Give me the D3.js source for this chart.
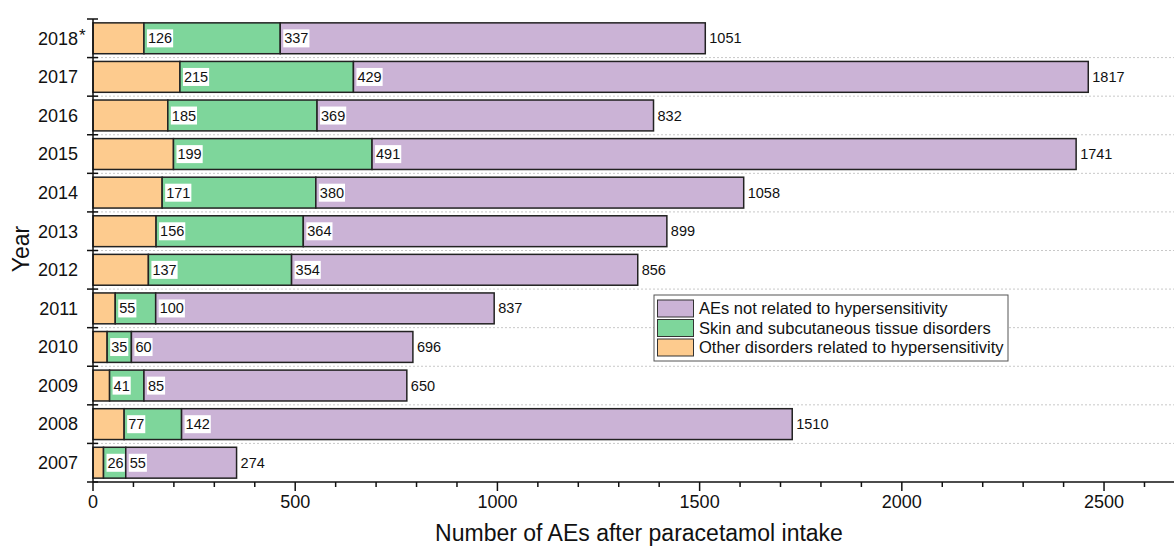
<!DOCTYPE html>
<html><head><meta charset="utf-8">
<script src="https://cdn.jsdelivr.net/npm/d3@7"></script>
<style>body{margin:0;background:#fff}svg{display:block;font-family:"Liberation Sans",Arial,sans-serif}</style>
</head><body><svg id="c" width="1174" height="547"></svg>
<script>
const years = ["2018","2017","2016","2015","2014","2013","2012","2011","2010","2009","2008","2007"];
const otherHyp = [126,215,185,199,171,156,137,55,35,41,77,26];
const skin = [337,429,369,491,380,364,354,100,60,85,142,55];
const notHyp = [1051,1817,832,1741,1058,899,856,837,696,650,1510,274];
const seriesNames = ["Other disorders related to hypersensitivity","Skin and subcutaneous tissue disorders","AEs not related to hypersensitivity"];
const colors = ["#fdcb8e","#7ed69b","#cbb3d6"];
const xTicks = [0,500,1000,1500,2000,2500];

const svg = d3.select("#c");
const L = 93, R = 1174, T = 19, B = 482;
const x = d3.scaleLinear().domain([0, 2673]).range([L, R]);
const y = d3.scaleBand().domain(years).range([T, B]).paddingInner(0.2).paddingOuter(0.1);

const rows = years.map((yr,i)=>({year:yr, v:[otherHyp[i], skin[i], notHyp[i]]}));

// dotted gridlines at band boundaries
const bounds = years.map((yr,i)=>T + i*(B-T)/years.length).slice(1);
svg.append("g").selectAll("line").data(bounds).join("line")
  .attr("x1",L).attr("x2",R).attr("y1",d=>d).attr("y2",d=>d)
  .attr("stroke","#c8c8c8").attr("stroke-dasharray","2,2").attr("stroke-width",1);

// bars
const g = svg.append("g");
rows.forEach(r=>{
  let acc = 0;
  r.v.forEach((val,k)=>{
    g.append("rect").attr("x",x(acc)).attr("y",y(r.year))
      .attr("width",x(acc+val)-x(acc)).attr("height",y.bandwidth())
      .attr("fill",colors[k]).attr("stroke","#222").attr("stroke-width",1.5);
    acc += val;
  });
});
// labels
rows.forEach(r=>{
  let acc = 0;
  r.v.forEach((val,k)=>{
    acc += val;
    const tx = x(acc)+4, ty = y(r.year)+y.bandwidth()/2;
    const t = g.append("text").attr("x",tx).attr("y",ty).attr("dy","0.35em")
      .attr("font-size",14.5).attr("fill","#111").text(val);
    if(k<2){
      const bb = t.node().getBBox();
      g.insert("rect", function(){return t.node();}).attr("x",bb.x-1).attr("y",bb.y-1)
        .attr("width",bb.width+2).attr("height",bb.height+2).attr("fill","#fff");
    }
  });
});

// x axis
const xa = svg.append("g").attr("transform",`translate(0,${B})`);
xa.append("line").attr("x1",L).attr("x2",R).attr("stroke","#111").attr("stroke-width",1.5);
const minor = d3.range(0,2700,100).filter(v=>x(v)<=R);
xa.selectAll(".mn").data(minor).join("line").attr("x1",d=>x(d)).attr("x2",d=>x(d))
  .attr("y1",0).attr("y2",d=>xTicks.includes(d)?9:5).attr("stroke","#111").attr("stroke-width",1.5);
xa.selectAll("text").data(xTicks).join("text").attr("x",d=>x(d)).attr("y",26)
  .attr("text-anchor","middle").attr("font-size",18).attr("fill","#111").text(d=>d);
svg.append("text").attr("x",639).attr("y",541).attr("text-anchor","middle")
  .attr("font-size",23).attr("fill","#111").text("Number of AEs after paracetamol intake");

// y axis
const ya = svg.append("g");
ya.append("line").attr("x1",L).attr("x2",L).attr("y1",T).attr("y2",B).attr("stroke","#111").attr("stroke-width",1.5);
const allB = [T, ...bounds, B];
ya.selectAll(".tk").data(allB).join("line").attr("x1",L-6).attr("x2",L+5)
  .attr("y1",d=>d).attr("y2",d=>d).attr("stroke","#111").attr("stroke-width",1.5);
ya.selectAll(".yl").data(years).join("text").attr("class","yl").attr("x",78)
  .attr("y",d=>y(d)+y.bandwidth()/2).attr("dy","0.35em").attr("text-anchor","end")
  .attr("font-size",18).attr("fill","#111").text(d=>d);
ya.append("text").attr("x",79).attr("y",y("2018")+y.bandwidth()/2+3).attr("font-size",17).attr("fill","#111").text("*");
svg.append("text").attr("transform","translate(29,249) rotate(-90)").attr("text-anchor","middle")
  .attr("font-size",23).attr("fill","#111").text("Year");

// legend
const lg = svg.append("g").attr("transform","translate(654,295)");
lg.append("rect").attr("width",354).attr("height",66).attr("fill","#fff").attr("stroke","#555").attr("stroke-width",1);
const order = [2,1,0];
order.forEach((k,i)=>{
  lg.append("rect").attr("x",3.5).attr("y",5+i*19.5).attr("width",36).attr("height",17)
    .attr("fill",colors[k]).attr("stroke","#333").attr("stroke-width",1);
  lg.append("text").attr("x",45).attr("y",13.5+i*19.5).attr("dy","0.35em").attr("font-size",16.5)
    .attr("fill","#111").text(seriesNames[k]);
});
</script></body></html>
